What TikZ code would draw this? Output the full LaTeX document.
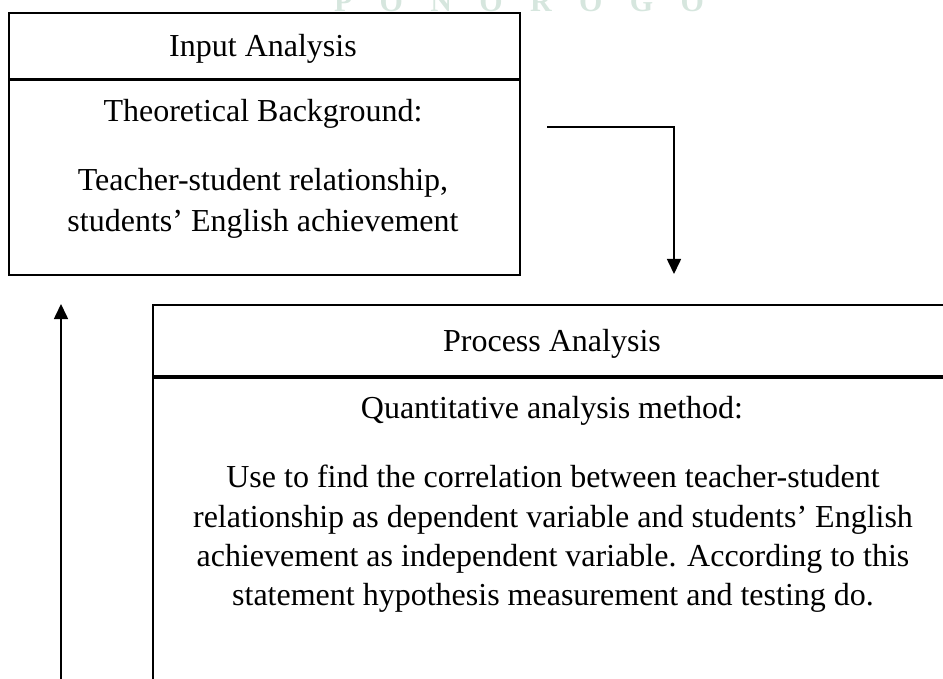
\documentclass[tikz,border=0pt]{standalone}
\usepackage{fontspec}
\setmainfont{Liberation Serif}
\usetikzlibrary{arrows.meta}
\definecolor{wmark}{HTML}{D6E6DE}
\tikzset{
  x=1pt, y=-1pt,
  boxline/.style={draw=black, line width=1.6pt},
  divline/.style={draw=black, line width=3pt},
  txt/.style={font=\fontsize{32}{40}\selectfont, inner sep=0pt, anchor=base},
  conn/.style={draw=black, line width=1.6pt, -{Triangle[width=14pt,length=15pt]}},
}
\begin{document}
\begin{tikzpicture}
\useasboundingbox (0,0) rectangle (943,679);
\clip (0,0) rectangle (943,679);
% watermark
\node[inner sep=0pt, text=wmark, font=\fontsize{30}{30}\selectfont\bfseries] (wm) at (519,2)
  {\makebox[370pt]{P\hfill O\hfill N\hfill O\hfill R\hfill O\hfill G\hfill O}};
% input box
\node[boxline, rectangle, minimum width=511pt, minimum height=262pt, anchor=north west, inner sep=0pt] (inbox) at (8,12) {};
\draw[divline] (inbox.west |- 0,80) -- (inbox.east |- 0,80);
\node[txt] (intitle) at (263,57) {Input Analysis};
\node[txt] (inhead) at (263,122) {Theoretical Background:};
\node[txt] (inbodya) at (263,191) {Teacher-student relationship,};
\node[txt] (inbodyb) at (263,232) {students’ English achievement};
% process box
\node[boxline, rectangle, minimum width=820pt, minimum height=420pt, anchor=north west, inner sep=0pt] (prbox) at (152,304) {};
\draw[divline, line width=4pt] (prbox.west |- 0,377) -- (prbox.east |- 0,377);
\node[txt] (prtitle) at (552,351) {Process Analysis};
\node[txt] (prhead) at (552,418) {Quantitative analysis method:};
\node[txt] (prbodya) at (553,487) {Use to find the correlation between teacher-student};
\node[txt] (prbodyb) at (553,527) {relationship as dependent variable and students’ English};
\node[txt] (prbodyc) at (553,566) {achievement as independent variable. According to this};
\node[txt] (prbodyd) at (553,605) {statement hypothesis measurement and testing do.};
% connectors
\coordinate (a1s) at (547,127);
\coordinate (a1c) at (674,127);
\coordinate (a1e) at (674,274);
\draw[conn] (a1s) -- (a1c) -- (a1e);
\coordinate (a2s) at (61,679);
\coordinate (a2e) at (61,304);
\draw[conn] (a2s) -- (a2e);
\end{tikzpicture}
\end{document}
